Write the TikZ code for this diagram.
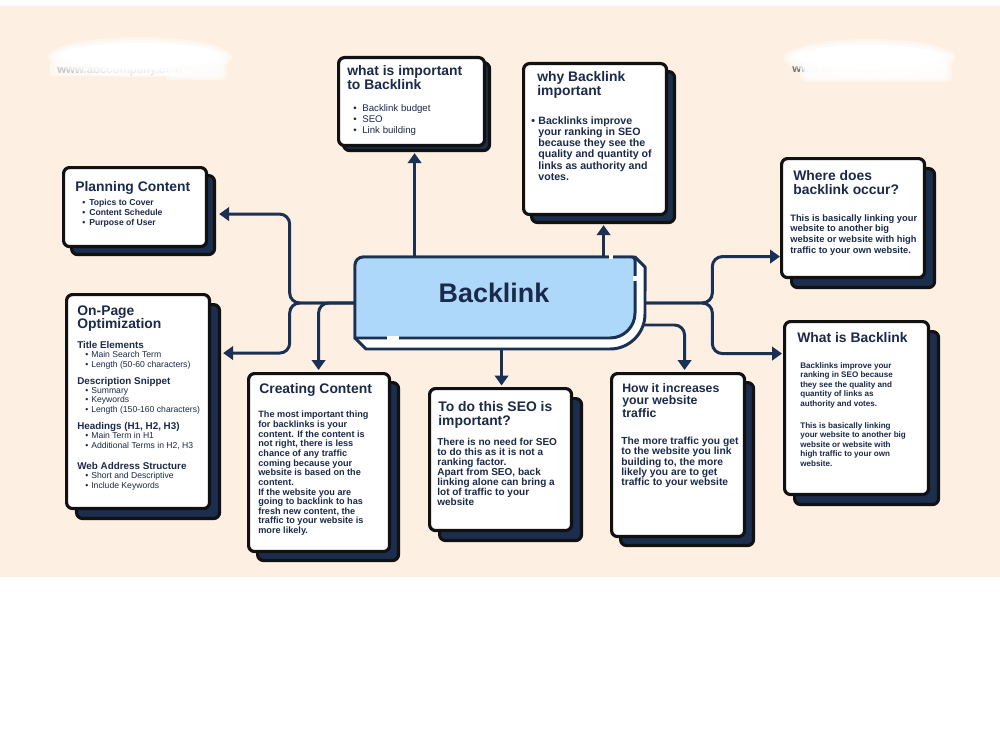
\documentclass[tikz,border=0pt]{standalone}
\usepackage{fontspec}
\setmainfont{Liberation Sans}
\usetikzlibrary{arrows.meta,shadows,calc}
\definecolor{peach}{HTML}{FDEFE2}
\definecolor{navy}{HTML}{1C2E4E}
\definecolor{ink}{HTML}{1B2A4A}
\definecolor{wire}{HTML}{1B3154}
\definecolor{edge}{HTML}{111111}
\definecolor{skyblue}{HTML}{AED8FA}
\pgfdeclarelayer{back}
\pgfdeclarelayer{wires}
\pgfsetlayers{back,wires,main}
\newcommand\bul[1]{\makebox[#1][l]{\textbullet}}
\newcommand\setfs[2]{\fontsize{#1}{#2}\selectfont}
\begin{document}
\begin{tikzpicture}[x=0.02cm, y=-0.02cm,
  card/.style={draw=edge, line width=1.8pt, fill=white, rounded corners=0.12cm,
    anchor=north west, inner sep=0pt,
    copy shadow={shadow xshift=#1, shadow yshift=-#1, fill=navy, draw=edge, line width=1.8pt}},
  card/.default=0.18cm,
  link/.style={draw=wire, line width=1.7pt, rounded corners=0.2cm,
    -{Triangle[length=0.2cm,width=0.27cm]}},
  txt/.style={anchor=north west, inner sep=0pt, align=left, text=ink},
  head/.style={txt, font=\setfs{7.9}{7.9}\bfseries},
  haze/.style={white, opacity=0.45},
]
\useasboundingbox (0,0) rectangle (1000,750);

% page and backdrop
\begin{pgfonlayer}{back}
  \fill[white] (0,0) rectangle (1000,750);
  \fill[peach] (0,6) rectangle (1000,577);
  % blanked-out web addresses, softened edges
  \node[anchor=west, inner sep=0, text=black!55, font=\setfs{6.5}{7}\bfseries] (wmleft) at (57,71) {www.abccompany.com};
  \foreach \r in {0,3,6} {
    \fill[haze] (140,57) ellipse [x radius=92-\r, y radius=20-\r];
    \fill[haze, rounded corners=0.1cm] (165+\r,60+\r/2) rectangle (227-\r,80-\r/2);
  }
  \fill[white] (140,56) ellipse [x radius=80, y radius=13];
  \fill[white, opacity=0.6] (50,63) rectangle (175,76);
  \node[anchor=west, inner sep=0, text=black!55, font=\setfs{6.5}{7}\bfseries] (wmright) at (792,70) {www.abccompany.com};
  \foreach \r in {0,3,6} {
    \fill[haze] (870,58) ellipse [x radius=86-\r, y radius=19-\r];
    \fill[haze, rounded corners=0.1cm] (800+\r,62+\r/2) rectangle (952-\r,82-\r/2);
  }
  \fill[white] (870,57) ellipse [x radius=74, y radius=12];
  \fill[white, opacity=0.6] (805,63) rectangle (945,77);
\end{pgfonlayer}

% central topic
\filldraw[fill=white, draw=wire, line width=1.7pt, line join=round]
  (355,338) -- (366,349) -- (610,349) arc[start angle=-90, end angle=0, radius=0.7cm]
  -- (645,267) -- (635,257) -- (363,257) -- (355,265) -- cycle;
\filldraw[fill=skyblue, draw=wire, line width=1.7pt]
  (355,338) -- (355,265) arc[start angle=180, end angle=90, radius=0.16cm]
  -- (632,257) arc[start angle=90, end angle=0, radius=0.06cm]
  -- (635,313) arc[start angle=0, end angle=-90, radius=0.5cm] -- cycle;
\draw[white, line width=1.9pt] (387,338) -- (399,338);
\draw[white, line width=1.9pt] (635,276) -- (635,281);
\draw[white, line width=1.9pt] (609,257) -- (613,257);
\node[minimum width=5.6cm, minimum height=1.62cm, inner sep=0pt] (core) at (495,297.5) {};
\node[font=\setfs{15.3}{16}\bfseries, text=ink] (corelabel) at (494,293) {Backlink};

% cards
\node[card=0.1cm, minimum width=2.92cm, minimum height=1.76cm] (what) at (337,56) {};
\node[card=0.16cm, minimum width=2.86cm, minimum height=3.02cm] (why) at (522,62) {};
\node[card=0.16cm, minimum width=2.86cm, minimum height=1.58cm] (plan) at (62,166) {};
\node[card=0.2cm, minimum width=2.86cm, minimum height=2.38cm] (where) at (780,157) {};
\node[card=0.2cm, minimum width=2.86cm, minimum height=4.28cm] (onpage) at (65,293) {};
\node[card=0.18cm, minimum width=2.82cm, minimum height=3.56cm] (create) at (247,372) {};
\node[card=0.2cm, minimum width=2.84cm, minimum height=2.84cm] (todo) at (428,387) {};
\node[card=0.18cm, minimum width=2.66cm, minimum height=3.26cm] (how) at (610,372) {};
\node[card=0.2cm, minimum width=2.88cm, minimum height=3.46cm] (whatis) at (783,320) {};

% card texts
\node[head] (whatT) at (347,65) {what is important\\to Backlink};
\node[txt, font=\setfs{5.5}{6.2}] (whatL) at (353,104)
  {\bul{0.18cm}Backlink budget\\\bul{0.18cm}SEO\\\bul{0.18cm}Link building};

\node[head] (whyT) at (537,71) {why Backlink\\important};
\node[txt, font=\setfs{6.05}{6.4}\bfseries] (whyB) at (531,116)
  {\bul{0.14cm}Backlinks improve\\\hspace*{0.14cm}your ranking in SEO\\\hspace*{0.14cm}because they see the\\\hspace*{0.14cm}quality and quantity of\\\hspace*{0.14cm}links as authority and\\\hspace*{0.14cm}votes.};

\node[head] (planT) at (75,181) {Planning Content};
\node[txt, font=\setfs{4.9}{5.67}\bfseries] (planL) at (82,199)
  {\bul{0.14cm}Topics to Cover\\\bul{0.14cm}Content Schedule\\\bul{0.14cm}Purpose of User};

\node[head] (whereT) at (793,170) {Where does\\backlink occur?};
\node[txt, font=\setfs{5.3}{6.2}\bfseries] (whereB) at (790,214)
  {This is basically linking your\\website to another big\\website or website with high\\traffic to your own website.};

\node[head] (onpageT) at (77,305) {On-Page\\Optimization};
\node[txt, font=\setfs{5.6}{5.4}\bfseries] (opH1) at (77,341) {Title Elements};
\node[txt, font=\setfs{4.9}{5.4}] (opL1) at (85,351)
  {\bul{0.12cm}Main Search Term\\\bul{0.12cm}Length (50-60 characters)};
\node[txt, font=\setfs{5.6}{5.4}\bfseries] (opH2) at (77,377) {Description Snippet};
\node[txt, font=\setfs{4.9}{5.4}] (opL2) at (85,387)
  {\bul{0.12cm}Summary\\\bul{0.12cm}Keywords\\\bul{0.12cm}Length (150-160 characters)};
\node[txt, font=\setfs{5.6}{5.4}\bfseries] (opH3) at (77,422) {Headings (H1, H2, H3)};
\node[txt, font=\setfs{4.9}{5.4}] (opL3) at (85,432)
  {\bul{0.12cm}Main Term in H1\\\bul{0.12cm}Additional Terms in H2, H3};
\node[txt, font=\setfs{5.6}{5.4}\bfseries] (opH4) at (77,462) {Web Address Structure};
\node[txt, font=\setfs{4.9}{5.4}] (opL4) at (85,472)
  {\bul{0.12cm}Short and Descriptive\\\bul{0.12cm}Include Keywords};

\node[head] (createT) at (259,383) {Creating Content};
\node[txt, font=\setfs{5.2}{5.48}\bfseries] (createB) at (258,411)
  {The most important thing\\for backlinks is your\\content. If the content is\\not right, there is less\\chance of any traffic\\coming because your\\website is based on the\\content.\\If the website you are\\going to backlink to has\\fresh new content, the\\traffic to your website is\\more likely.};

\node[head] (todoT) at (438,401) {To do this SEO is\\important?};
\node[txt, font=\setfs{5.7}{5.67}\bfseries] (todoB) at (437,438)
  {There is no need for SEO\\to do this as it is not a\\ranking factor.\\Apart from SEO, back\\linking alone can bring a\\lot of traffic to your\\website};

\node[txt, font=\setfs{7}{7.1}\bfseries] (howT) at (622,383) {How it increases\\your website\\traffic};
\node[txt, font=\setfs{5.85}{5.8}\bfseries] (howB) at (621,437)
  {The more traffic you get\\to the website you link\\building to, the more\\likely you are to get\\traffic to your website};

\node[head] (whatisT) at (797,332) {What is Backlink};
\node[txt, font=\setfs{4.6}{5.4}\bfseries] (whatisB1) at (800,362)
  {Backlinks improve your\\ranking in SEO because\\they see the quality and\\quantity of links as\\authority and votes.};
\node[txt, font=\setfs{4.6}{5.4}\bfseries] (whatisB2) at (800,422)
  {This is basically linking\\your website to another big\\website or website with\\high traffic to your own\\website.};

% connectors
\coordinate (tipWhat) at ($(what.south)+(3,6)$);
\coordinate (tipWhy) at ($(why.south)+(8.5,9)$);
\coordinate (lj) at ($(core.west)+(-65,5.5)$);
\coordinate (tipPlan) at ($(plan.east)+(11,7)$);
\coordinate (tipOn) at ($(onpage.east)+(12,-48.5)$);
\coordinate (tipCreate) at ($(create.north)+(-0.5,-2)$);
\coordinate (tipTodo) at ($(todo.north)+(1,-1.5)$);
\coordinate (rj) at ($(core.east)+(77,5.5)$);
\coordinate (tipWhere) at ($(where.west)+(0,38.5)$);
\coordinate (tipWhatis) at ($(whatis.west)+(-1,-54.5)$);
\coordinate (tipHow) at ($(how.north)+(6.5,-2)$);
\begin{pgfonlayer}{wires}
  \draw[link] (core.north -| tipWhat) -- (tipWhat);
  \draw[link] (core.north -| tipWhy) -- (tipWhy);
  \draw[link] (core.west |- lj) -- (lj) |- (tipPlan);
  \draw[link] (core.west |- lj) -- (lj) |- (tipOn);
  \draw[link] (core.west |- lj) -| (tipCreate);
  \draw[link] (core.south -| tipTodo) -- (tipTodo);
  \draw[link] (core.east |- rj) -- (rj) |- (tipWhere);
  \draw[link] (core.east |- rj) -- (rj) |- (tipWhatis);
  \draw[link] ($(core.east)+(0,27.5)$) -| (tipHow);
\end{pgfonlayer}
\end{tikzpicture}
\end{document}
